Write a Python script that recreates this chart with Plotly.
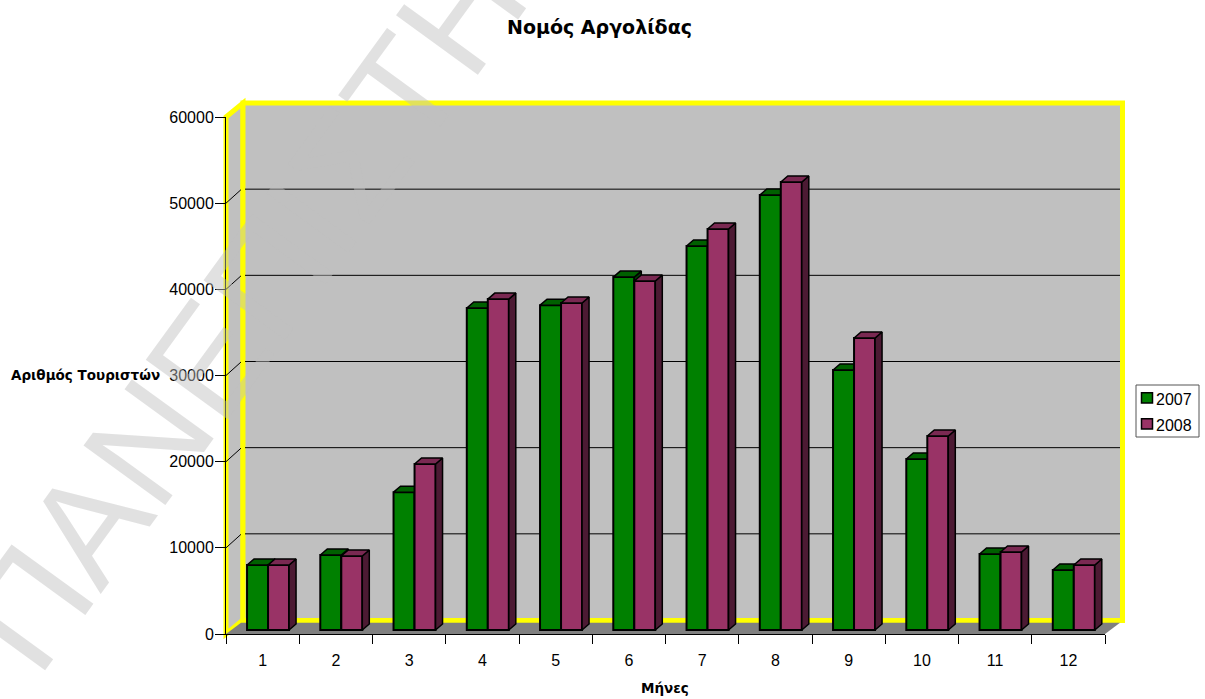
import plotly.graph_objects as go

months = list(range(1, 13))
tourists_2007 = [7540, 8700, 16000, 37370, 37700, 40960, 44560, 50480, 30170, 19840, 8820, 6960]
tourists_2008 = [7540, 8590, 19260, 38400, 37950, 40500, 46540, 51990, 33890, 22510, 9050, 7540]
y_ticks = [0, 10000, 20000, 30000, 40000, 50000, 60000]
series_names = ["2007", "2008"]
title_text = "Νομός Αργολίδας"
y_title = "Αριθμός Τουριστών"
x_title = "Μήνες"
watermark_text = "ΠΑΝΕΠΙΣΤΗΜΙΟ"

W, H = 1205, 699
L, R, T, B = 226, 1105, 117, 634
BAR_W = 0.2867
BAR_SHIFT = 0.074
BASE = 464
DX = 0.0956
DY = 696


def X(p):
    return (p - L) / (R - L)


def Y(p):
    return (B - p) / (B - T)


def poly(points):
    return "M" + " L".join(f"{X(a):.5f},{Y(b):.5f}" for a, b in points) + " Z"


def wall(points, fill, line=None, width=0):
    return dict(type="path", xref="paper", yref="paper", path=poly(points), fillcolor=fill,
                line=dict(color=line or "rgba(0,0,0,0)", width=width), layer="below")


def seg(a, b, c, d, color="#000", width=1):
    return dict(type="line", xref="paper", yref="paper", x0=X(a), y0=Y(b), x1=X(c), y1=Y(d),
                line=dict(color=color, width=width), layer="below")


shapes = [
    wall([(226, 117), (243, 103), (243, 620), (226, 634)], "#C0C0C0", "#FFFF00", 5),
    wall([(243, 103), (1122.5, 103), (1122.5, 620.5), (243, 620.5)], "#C0C0C0", "#FFFF00", 5),
    wall([(226, 634), (1105, 634), (1120, 622.8), (241, 622.8)], "#808080"),
]
for t in y_ticks[1:-1]:
    py = B - (B - T) * t / 60000
    shapes.append(seg(226, py, 241, py - 13.5))
    shapes.append(seg(245, py - 14, 1120, py - 14))

# Legend panel
shapes.append(dict(type="rect", xref="paper", yref="paper", x0=X(1136), x1=X(1199), y0=Y(385), y1=Y(437),
                   fillcolor="#fff", line=dict(color="#555", width=1)))
shapes.append(dict(type="rect", xref="paper", yref="paper", x0=X(1141.5), x1=X(1152.5), y0=Y(392.7), y1=Y(403),
                   fillcolor="#008000", line=dict(color="#000", width=1.5)))
shapes.append(dict(type="rect", xref="paper", yref="paper", x0=X(1141.5), x1=X(1152.5), y0=Y(418.7), y1=Y(429),
                   fillcolor="#993366", line=dict(color="#000", width=1.5)))


def faces(values, offset):
    top_x, top_y, side_x, side_y = [], [], [], []
    for m, v in zip(months, values):
        x0 = m + offset
        x1 = x0 + BAR_W
        y = BASE + v
        top_x += [x0, x1, x1 + DX, x0 + DX, x0, None]
        top_y += [y, y, y + DY, y + DY, y, None]
        side_x += [x1, x1 + DX, x1 + DX, x1, x1, None]
        side_y += [BASE, BASE + DY, y + DY, y, BASE, None]
    return top_x, top_y, side_x, side_y


fig = go.Figure()
specs = [
    (tourists_2007, series_names[0], BAR_SHIFT - BAR_W, "#008000", "#006000", "#004000", "x", "y"),
    (tourists_2008, series_names[1], BAR_SHIFT, "#993366", "#7A2952", "#4C1A33", "x2", "y2"),
]
for vals, name, off, front, top, side, xa, ya in specs:
    tx, ty, sx, sy = faces(vals, off)
    fig.add_trace(go.Bar(x=months, y=vals, base=BASE, name=name, width=BAR_W, offset=off,
                         marker=dict(color=front, line=dict(color="#000", width=2)),
                         xaxis=xa, yaxis=ya, showlegend=False, hoverinfo="skip"))
    fig.add_trace(go.Scatter(x=sx, y=sy, mode="lines", fill="toself", fillcolor=side,
                             line=dict(color="#000", width=1.5), xaxis=xa, yaxis=ya,
                             showlegend=False, hoverinfo="skip"))
    fig.add_trace(go.Scatter(x=tx, y=ty, mode="lines", fill="toself", fillcolor=top,
                             line=dict(color="#000", width=1.5), xaxis=xa, yaxis=ya,
                             showlegend=False, hoverinfo="skip"))

TXT = dict(family="Liberation Sans", size=16, color="#000")
BOLD = dict(family="DejaVu Sans", size=13.5, color="#000", weight="bold")

annotations = [
    dict(text=series_names[0], xref="paper", yref="paper", x=X(1154), y=Y(399), xanchor="left", yanchor="middle",
         showarrow=False, font=TXT),
    dict(text=series_names[1], xref="paper", yref="paper", x=X(1154), y=Y(425), xanchor="left", yanchor="middle",
         showarrow=False, font=TXT),
    dict(text=title_text, xref="paper", yref="paper", x=X(599), y=Y(27), xanchor="center", yanchor="middle",
         showarrow=False, font=dict(family="DejaVu Sans", size=19, color="#000", weight="bold")),
    dict(text=y_title, xref="paper", yref="paper", x=X(85), y=Y(375), xanchor="center", yanchor="middle",
         showarrow=False, font=BOLD),
    dict(text=x_title, xref="paper", yref="paper", x=X(664.5), y=Y(688), xanchor="center", yanchor="middle",
         showarrow=False, font=BOLD),
    dict(text=watermark_text, xref="paper", yref="paper", x=X(326), y=Y(197), xanchor="center", yanchor="middle",
         showarrow=False, textangle=-54,
         font=dict(family="Liberation Sans", size=147, color="rgba(192,192,192,0.47)")),
]

fig.update_layout(
    width=W, height=H, autosize=False,
    margin=dict(l=L, r=W - R, t=T, b=H - B, pad=0),
    paper_bgcolor="#fff", plot_bgcolor="rgba(0,0,0,0)",
    barmode="overlay", showlegend=False,
    shapes=shapes, annotations=annotations,
    xaxis=dict(range=[0.5, 12.5], tickmode="array", tickvals=months, ticktext=[str(m) for m in months],
               ticks="outside", ticklen=12, tickcolor="rgba(0,0,0,0)", showgrid=False, zeroline=False,
               showline=True, linecolor="#000", linewidth=1, tickfont=TXT,
               minor=dict(tickmode="array", tickvals=[m - 0.5 for m in months] + [12.5], ticks="outside",
                          ticklen=9, tickcolor="#000", tickwidth=1, showgrid=False)),
    yaxis=dict(range=[0, 60000], tickmode="array", tickvals=y_ticks, ticktext=[str(t) for t in y_ticks],
               ticks="outside", ticklen=10, tickcolor="#000", showgrid=False, zeroline=False,
               ticklabelstandoff=-2,
               showline=True, linecolor="#000", linewidth=1, tickfont=TXT),
    xaxis2=dict(range=[0.5, 12.5], overlaying="x", visible=False),
    yaxis2=dict(range=[0, 60000], overlaying="y", visible=False),
)

fig.write_html("out.html", config={"displayModeBar": False},
               post_script="document.body.style.margin='0';")
